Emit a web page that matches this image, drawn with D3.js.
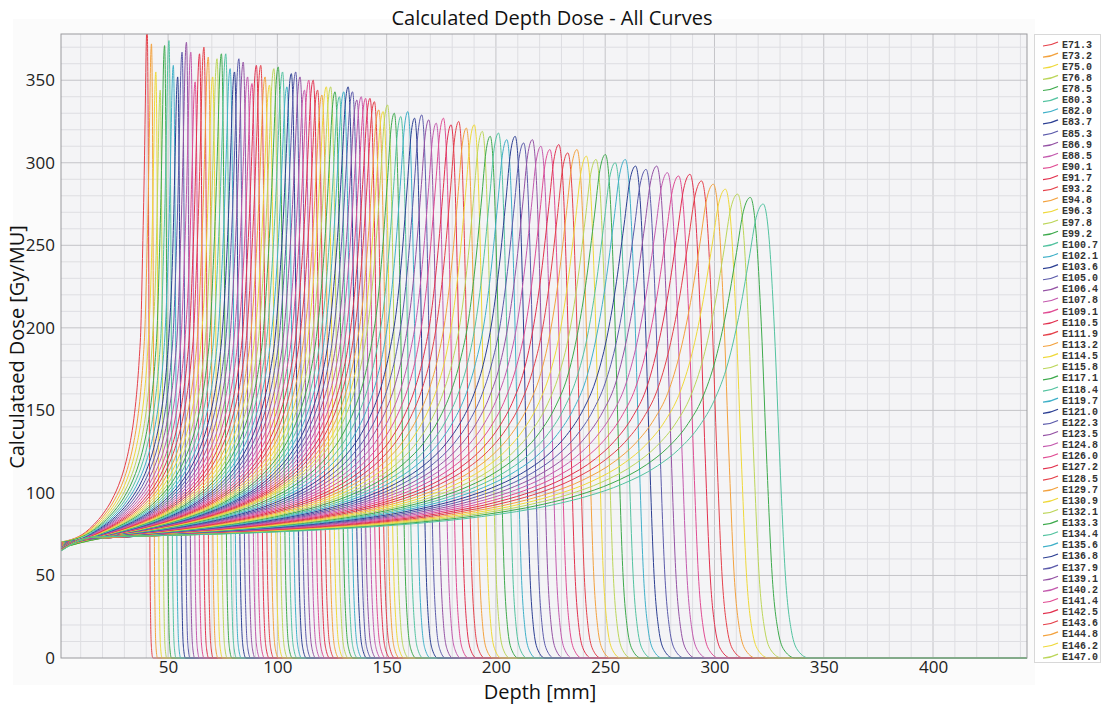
<!DOCTYPE html>
<html>
<head>
<meta charset="utf-8">
<script src="https://cdn.jsdelivr.net/npm/d3@7"></script>
<style>
body { margin: 0; background: #fff; }
.tick text { font-family: "Open Sans", sans-serif; fill: #222; }
</style>
</head>
<body>
<div class="canva"></div>
<script>
// beam energies (MeV), one curve each; the legend only shows the first 56
const energies = [
  71.3, 73.2, 75.0, 76.8, 78.5, 80.3, 82.0, 83.7, 85.3, 86.9, 88.5, 90.1, 91.7, 93.2,
  94.8, 96.3, 97.8, 99.2, 100.7, 102.1, 103.6, 105.0, 106.4, 107.8, 109.1, 110.5, 111.9,
  113.2, 114.5, 115.8, 117.1, 118.4, 119.7, 121.0, 122.3, 123.5, 124.8, 126.0, 127.2,
  128.5, 129.7, 130.9, 132.1, 133.3, 134.4, 135.6, 136.8, 137.9, 139.1, 140.2, 141.4,
  142.5, 143.6, 144.8, 146.2, 147.0,
  148.6, 150.2, 151.9, 153.5, 155.2, 156.8, 158.5, 160.2, 161.9, 163.6, 165.4, 167.1,
  168.8, 170.6, 172.4, 174.1, 175.9, 177.7, 179.5, 181.3, 183.1, 185.0, 186.8, 188.7,
  190.5, 192.4, 194.3, 196.2, 198.2, 200.1, 202.1, 204.1, 206.2, 208.3, 210.4, 212.5,
  214.6, 216.8, 219.0, 221.3, 223.6
];

// depth of the Bragg peak (mm)
const peakDepth = [
  40.4, 42.4, 44.4, 46.4, 48.4, 50.4, 52.4, 54.4, 56.4, 58.4, 60.4, 62.4, 64.4, 66.4,
  68.4, 70.4, 72.4, 74.4, 76.4, 78.4, 80.4, 82.4, 84.4, 86.4, 88.4, 90.4, 92.4, 94.4,
  96.4, 98.4, 100.4, 102.4, 104.4, 106.4, 108.4, 110.4, 112.4, 114.4, 116.4, 118.4,
  120.4, 122.4, 124.4, 126.4, 128.4, 130.4, 132.4, 134.4, 136.4, 138.4, 140.4, 142.4,
  144.4, 146.4, 148.4, 150.4,
  153.5, 156.5, 159.7, 162.8, 166.1, 169.3, 172.7, 176.0, 179.5, 183.0, 186.5, 190.1,
  193.8, 197.4, 201.2, 205.0, 208.8, 212.7, 216.7, 220.6, 224.7, 228.8, 232.9, 237.1,
  241.4, 245.8, 250.1, 254.6, 259.2, 263.9, 268.7, 273.6, 278.5, 283.6, 288.8, 294.1,
  299.5, 305.0, 310.6, 316.4, 322.3
];

// peak dose (Gy/MU)
const peakDose = [
  382, 372, 355, 344, 371, 374, 359, 352, 367, 373, 367, 349, 366, 370, 364, 352, 363,
  366, 366, 357, 355, 363, 361, 352, 348, 359, 359, 352, 347, 357, 358, 355, 346, 354,
  355, 352, 344, 350, 350, 344, 341, 346, 346, 343, 340, 343, 346, 343, 338, 340, 339,
  339, 337, 332, 331, 335,
  330, 328, 331, 327, 329, 326, 324, 327, 323, 325, 321, 323, 319, 316, 318, 314, 316,
  312, 314, 310, 308, 311, 306, 308, 304, 302, 305, 300, 302, 298, 296, 298, 294, 292,
  293, 289, 287, 284, 281, 279, 275
];

// surface dose and plateau level, by peak depth
const rangeRef = [40, 150, 322];
const entranceRef = [70, 67, 64];
const plateauRef = [66, 70, 73];

// fluence loss with depth
const attenDepth = [0, 100, 200, 300, 450];
const attenFactor = [1, 0.89, 0.78, 0.67, 0.52];

// proximal rise (fraction of peak depth -> ratio to plateau)
const riseFrac = [0.05, 0.1, 0.2, 0.3, 0.4, 0.5, 0.6, 0.7, 0.75, 0.8, 0.85, 0.88, 0.91, 0.93];
const riseRatio = [1.023, 1.047, 1.102, 1.168, 1.249, 1.352, 1.49, 1.688, 1.828, 2.014, 2.282, 2.515, 2.85, 3.18];

// peak and distal fall-off (fraction of peak depth -> share of peak dose)
const peakFrac = [0.95, 0.965, 0.98, 0.99, 1.0, 1.008, 1.016, 1.024, 1.032, 1.04, 1.05, 1.065];
const peakShare = [0.65, 0.75, 0.88, 0.97, 1.0, 0.93, 0.72, 0.42, 0.17, 0.06, 0.015, 0];

const colors = ["#e5414a", "#f3a23e", "#efd93a", "#bcd65a", "#3daa4c", "#53c3a0", "#3fb0c8",
                "#2c3f93", "#5c5bab", "#9452a4", "#c45aae", "#e04c93", "#e2314e"];

const xTicks = [50, 100, 150, 200, 250, 300, 350, 400];
const yTicks = [0, 50, 100, 150, 200, 250, 300, 350];
const LEGEND_COUNT = 56;

const WIDTH = 1102, HEIGHT = 705;
const PLOT = { LEFT: 61, RIGHT: 1027, TOP: 34, BOTTOM: 658 };
const X_MIN = 1, X_MAX = 443, Y_MAX = 378;

const svg = d3.select(".canva").append("svg")
    .attr("width", WIDTH)
    .attr("height", HEIGHT);

const x = d3.scaleLinear().domain([X_MIN, X_MAX]).range([PLOT.LEFT, PLOT.RIGHT]);
const y = d3.scaleLinear().domain([0, Y_MAX]).range([PLOT.BOTTOM, PLOT.TOP]);

const entranceAt = d3.scaleLinear().domain(rangeRef).range(entranceRef);
const plateauAt = d3.scaleLinear().domain(rangeRef).range(plateauRef);
const attenAt = d3.scaleLinear().domain(attenDepth).range(attenFactor);

// faint panel behind the chart
svg.append("rect")
    .attr("x", 13).attr("y", 19)
    .attr("width", 1022).attr("height", 666)
    .attr("fill", "#fbfbfb");

svg.append("rect")
    .attr("x", PLOT.LEFT).attr("y", PLOT.TOP)
    .attr("width", PLOT.RIGHT - PLOT.LEFT).attr("height", PLOT.BOTTOM - PLOT.TOP)
    .attr("fill", "#f4f4f6");

// grid
const grid = svg.append("g");
grid.selectAll(".gx").data(d3.range(10, X_MAX, 10))
    .enter().append("line")
    .attr("x1", d => x(d)).attr("x2", d => x(d))
    .attr("y1", PLOT.TOP).attr("y2", PLOT.BOTTOM)
    .attr("stroke", d => d % 50 === 0 ? "#c4c4c8" : "#dedee2")
    .attr("stroke-width", 1);
grid.selectAll(".gy").data(d3.range(10, Y_MAX, 10))
    .enter().append("line")
    .attr("x1", PLOT.LEFT).attr("x2", PLOT.RIGHT)
    .attr("y1", d => y(d)).attr("y2", d => y(d))
    .attr("stroke", d => d % 50 === 0 ? "#c4c4c8" : "#dedee2")
    .attr("stroke-width", 1);

svg.append("clipPath").attr("id", "plotclip")
  .append("rect")
    .attr("x", PLOT.LEFT).attr("y", PLOT.TOP)
    .attr("width", PLOT.RIGHT - PLOT.LEFT).attr("height", PLOT.BOTTOM - PLOT.TOP + 1);

// build the curves
const curves = energies.map((e, i) => {
    const P = peakDepth[i];
    const pts = [[0, entranceAt(P)]];
    riseFrac.forEach((f, k) => {
        const d = f * P;
        if (d < 10) return;
        pts.push([d, plateauAt(P) * riseRatio[k] * attenAt(d)]);
    });
    peakFrac.forEach((f, k) => pts.push([f * P, peakDose[i] * peakShare[k]]));
    pts.push([X_MAX, 0]);
    return { label: "E" + e.toFixed(1), color: colors[i % colors.length], pts: pts };
});

const line = d3.line()
    .x(d => x(d[0]))
    .y(d => y(d[1]))
    .curve(d3.curveMonotoneX);

svg.append("g")
    .attr("clip-path", "url(#plotclip)")
  .selectAll("path").data(curves)
    .enter().append("path")
    .attr("d", d => line(d.pts))
    .attr("fill", "none")
    .attr("stroke", d => d.color)
    .attr("stroke-width", 1);

svg.append("rect")
    .attr("x", PLOT.LEFT).attr("y", PLOT.TOP)
    .attr("width", PLOT.RIGHT - PLOT.LEFT).attr("height", PLOT.BOTTOM - PLOT.TOP)
    .attr("fill", "none")
    .attr("stroke", "#9a9a9e")
    .attr("stroke-width", 1);

// axes
const xAxis = svg.append("g")
    .attr("transform", `translate(0, ${PLOT.BOTTOM})`)
    .call(d3.axisBottom(x).tickValues(xTicks).tickSize(0).tickPadding(3));
xAxis.select(".domain").remove();
xAxis.selectAll("text").attr("font-size", 17);

const yAxis = svg.append("g")
    .attr("transform", `translate(${PLOT.LEFT}, 0)`)
    .call(d3.axisLeft(y).tickValues(yTicks).tickSize(0).tickPadding(6));
yAxis.select(".domain").remove();
yAxis.selectAll("text").attr("font-size", 17);

// titles
svg.append("text")
    .attr("x", 552).attr("y", 25)
    .attr("text-anchor", "middle")
    .attr("font-family", "Open Sans, sans-serif")
    .attr("font-size", 20)
    .attr("fill", "#111")
    .text("Calculated Depth Dose - All Curves");

svg.append("text")
    .attr("x", 540).attr("y", 699)
    .attr("text-anchor", "middle")
    .attr("font-family", "Open Sans, sans-serif")
    .attr("font-size", 20)
    .attr("fill", "#111")
    .text("Depth [mm]");

svg.append("text")
    .attr("transform", "translate(24, 347) rotate(-90)")
    .attr("text-anchor", "middle")
    .attr("font-family", "Open Sans, sans-serif")
    .attr("font-size", 20)
    .attr("fill", "#111")
    .text("Calculataed Dose [Gy/MU]");

// legend
const legend = svg.append("g");
legend.append("rect")
    .attr("x", 1034.5).attr("y", 34.5)
    .attr("width", 66).attr("height", 628)
    .attr("fill", "#fff")
    .attr("stroke", "#d8d8d8");

const rows = legend.selectAll(".row").data(curves.slice(0, LEGEND_COUNT))
    .enter().append("g")
    .attr("transform", (d, i) => `translate(0, ${44 + i * 11.13})`);

rows.append("path")
    .attr("d", "M1043,2 Q1051,1.5 1058,-2")
    .attr("fill", "none")
    .attr("stroke", d => d.color)
    .attr("stroke-width", 1.2);

rows.append("text")
    .attr("x", 1062).attr("y", 3.5)
    .attr("font-family", "Liberation Mono, monospace")
    .attr("font-weight", "bold")
    .attr("font-size", 10)
    .attr("fill", "#333")
    .text(d => d.label);
</script>
</body>
</html>
